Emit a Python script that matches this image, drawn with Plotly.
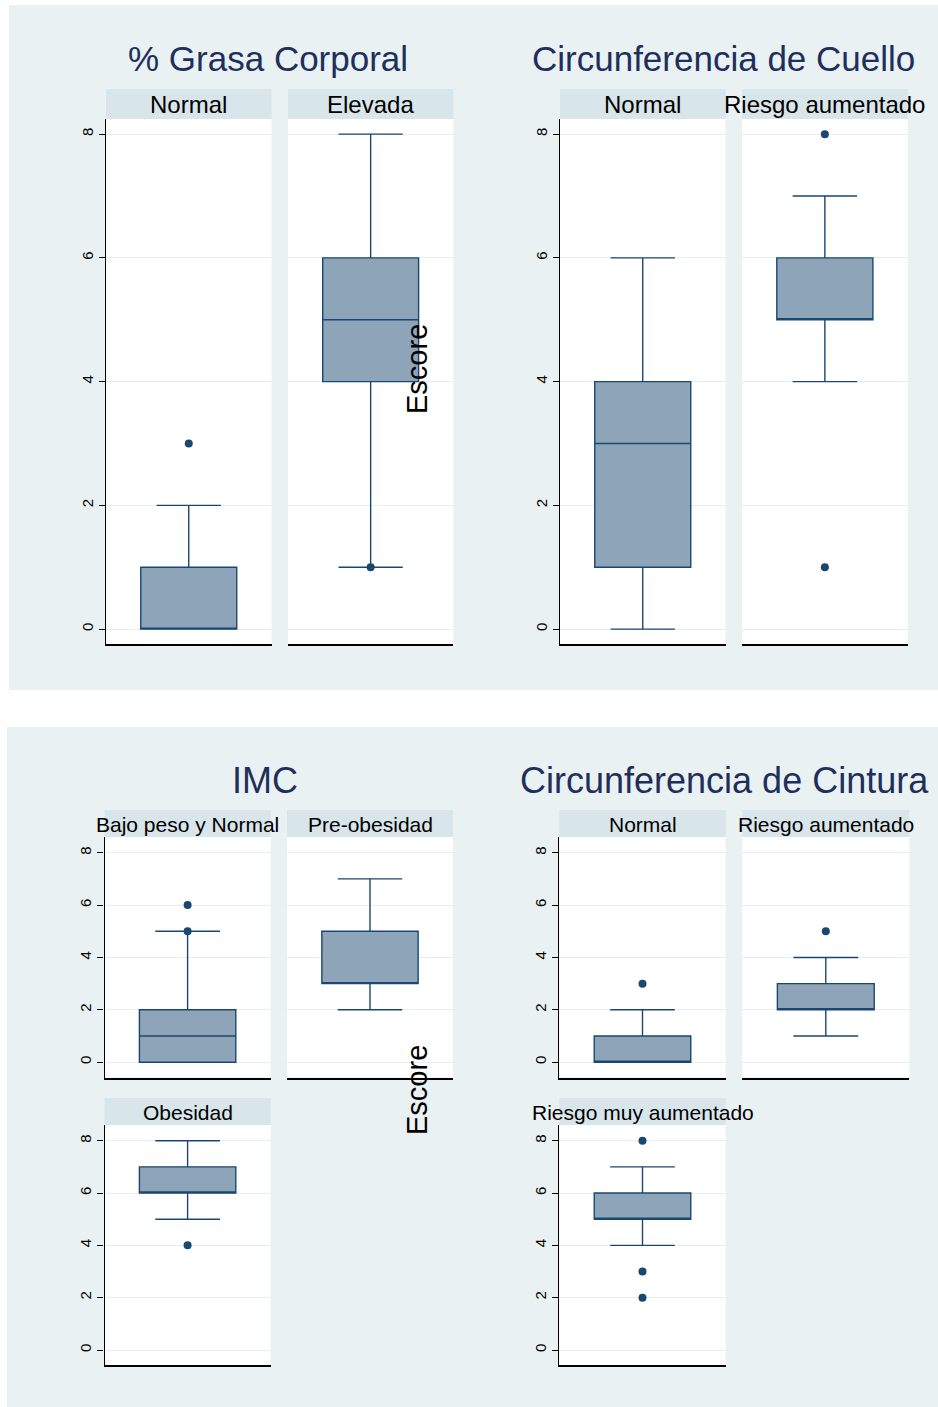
import plotly.graph_objects as go

W, H = 938, 1407

# ---------------- data ----------------
panel_titles = ["% Grasa Corporal", "Circunferencia de Cuello", "IMC", "Circunferencia de Cintura"]
group_labels = ["Normal", "Elevada",
                "Normal", "Riesgo aumentado",
                "Bajo peso y Normal", "Pre-obesidad", "Obesidad",
                "Normal", "Riesgo aumentado", "Riesgo muy aumentado"]
q1_vals     = [0, 4, 1, 5, 0, 3, 6, 0, 2, 5]
median_vals = [0, 5, 3, 5, 1, 3, 6, 0, 2, 5]
q3_vals     = [1, 6, 4, 6, 2, 5, 7, 1, 3, 6]
lower_vals  = [0, 1, 0, 4, 0, 2, 5, 0, 1, 4]
upper_vals  = [2, 8, 6, 7, 5, 7, 8, 2, 4, 7]
outlier_vals = [[3], [1], [], [8, 1], [5, 6], [], [4], [3], [5], [8, 3, 2]]
y_ticks = [0, 2, 4, 6, 8]
y_title = "Escore"

# ---------------- style ----------------
FONT = "Liberation Sans, Arial, sans-serif"
PANEL_BG = "#E9F1F3"
STRIP_BG = "#D8E5EA"
BOX_FILL = "#8EA4B8"
NAVY = "#1A476F"
TITLE_COL = "#1F2F5C"
GRID = "#E6EEF0"

# geometry in pixels: left, right, top, bottom, strip_top, y-range, show y axis, strip font
TOP_R = [-0.245, 8.245]
BOT_R = [-0.585, 8.6]
cells = [
    (106.0, 271.5, 119.0, 644.3, 89.0, TOP_R, True, 24),
    (288.0, 453.3, 119.0, 644.3, 89.0, TOP_R, False, 24),
    (560.0, 725.5, 119.0, 644.3, 89.0, TOP_R, True, 24),
    (742.0, 907.7, 119.0, 644.3, 89.0, TOP_R, False, 24),
    (104.5, 270.7, 837.0, 1077.5, 810.0, BOT_R, True, 21),
    (287.0, 453.0, 837.0, 1077.5, 810.0, BOT_R, False, 21),
    (104.5, 270.7, 1125.0, 1365.3, 1098.0, BOT_R, True, 21),
    (559.3, 725.7, 837.0, 1077.5, 810.0, BOT_R, True, 21),
    (742.3, 909.3, 837.0, 1077.5, 810.0, BOT_R, False, 21),
    (559.3, 725.7, 1125.0, 1365.3, 1098.0, BOT_R, True, 21),
]

def fx(x):
    return x / W

def fy(y):
    return 1 - y / H

fig = go.Figure()
shapes = []
annotations = []

# panel backgrounds
for (x0, y0, x1, y1) in [(9, 5, 938, 690), (7, 727, 938, 1407)]:
    shapes.append(dict(type="rect", xref="paper", yref="paper",
                       x0=fx(x0), x1=fx(x1), y0=fy(y1), y1=fy(y0),
                       fillcolor=PANEL_BG, line=dict(width=0), layer="below"))

layout_axes = {}
for k, (l, r, t, b, st, yr, showy, sfs) in enumerate(cells):
    i = k + 1
    xn = "x" if i == 1 else f"x{i}"
    yn = "y" if i == 1 else f"y{i}"
    xk = "xaxis" if i == 1 else f"xaxis{i}"
    yk = "yaxis" if i == 1 else f"yaxis{i}"

    # white plot area and strip
    shapes.append(dict(type="rect", xref="paper", yref="paper",
                       x0=fx(l), x1=fx(r), y0=fy(b), y1=fy(t),
                       fillcolor="white", line=dict(width=0), layer="below"))
    shapes.append(dict(type="rect", xref="paper", yref="paper",
                       x0=fx(l), x1=fx(r), y0=fy(t), y1=fy(st),
                       fillcolor=STRIP_BG, line=dict(width=0), layer="below"))
    annotations.append(dict(text=group_labels[k], xref="paper", yref="paper",
                            x=fx((l + r) / 2), y=fy((st + t) / 2 + 1),
                            xanchor="center", yanchor="middle", showarrow=False,
                            font=dict(family=FONT, size=sfs, color="black")))

    fig.add_trace(go.Box(
        x=[0], q1=[q1_vals[k]], median=[median_vals[k]], q3=[q3_vals[k]],
        lowerfence=[lower_vals[k]], upperfence=[upper_vals[k]],
        width=0.58, whiskerwidth=0.67, boxpoints=False,
        fillcolor=BOX_FILL, line=dict(color=NAVY, width=1.4),
        xaxis=xn, yaxis=yn, showlegend=False, hoverinfo="skip"))
    if outlier_vals[k]:
        fig.add_trace(go.Scatter(
            x=[0] * len(outlier_vals[k]), y=outlier_vals[k], mode="markers",
            marker=dict(color=NAVY, size=8), xaxis=xn, yaxis=yn,
            showlegend=False, hoverinfo="skip"))

    layout_axes[xk] = dict(domain=[fx(l), fx(r)], anchor=yn, range=[-0.5, 0.5],
                           showticklabels=False, ticks="", showgrid=False,
                           zeroline=False, showline=True, linecolor="black",
                           linewidth=1.5, fixedrange=True)
    layout_axes[yk] = dict(domain=[fy(b), fy(t)], anchor=xn, range=yr,
                           tickvals=y_ticks, showticklabels=showy,
                           ticks="outside" if showy else "", ticklen=6,
                           tickwidth=1, tickcolor="black", tickangle=-90,
                           tickfont=dict(family=FONT, size=15, color="black"),
                           showgrid=True, gridcolor=GRID, gridwidth=1,
                           zeroline=False, showline=showy, linecolor="black",
                           linewidth=1.2, fixedrange=True)

# panel titles
for text, (cx, cy), tfs in zip(panel_titles,
                               [(268, 59), (723, 59), (265, 780), (724, 780)],
                               [35, 35, 36, 36]):
    annotations.append(dict(text=text, xref="paper", yref="paper",
                            x=fx(cx), y=fy(cy), xanchor="center", yanchor="middle",
                            showarrow=False,
                            font=dict(family=FONT, size=tfs, color=TITLE_COL)))

# y titles
for cy in (369, 1090):
    annotations.append(dict(text=y_title, xref="paper", yref="paper",
                            x=fx(417), y=fy(cy), xanchor="center", yanchor="middle",
                            textangle=-90, showarrow=False,
                            font=dict(family=FONT, size=29, color="black")))

fig.update_layout(
    width=W, height=H, margin=dict(l=0, r=0, t=0, b=0),
    paper_bgcolor="white", plot_bgcolor="rgba(0,0,0,0)",
    shapes=shapes, annotations=annotations, showlegend=False,
    **layout_axes)

fig.write_html("out.html", config={"displayModeBar": False},
               post_script="document.body.style.margin='0px';document.body.style.overflow='hidden';")
